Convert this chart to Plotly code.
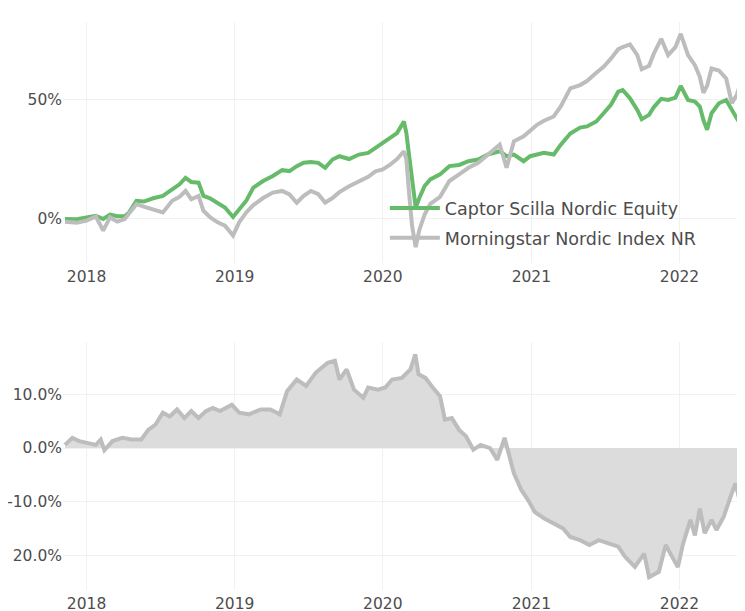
import plotly.graph_objects as go
from plotly.subplots import make_subplots

# ---- data ----
dates_top = [
    "2017-11-09", "2017-12-08", "2018-01-01", "2018-01-24", "2018-02-11", "2018-02-28",
    "2018-03-18", "2018-04-05", "2018-04-16", "2018-05-04", "2018-05-22", "2018-06-14",
    "2018-07-08", "2018-07-31", "2018-08-18", "2018-09-02", "2018-09-16", "2018-10-04",
    "2018-10-16", "2018-11-02", "2018-11-20", "2018-12-08", "2018-12-28", "2019-01-12",
    "2019-01-30", "2019-02-16", "2019-03-12", "2019-04-05", "2019-04-28", "2019-05-16",
    "2019-06-03", "2019-06-20", "2019-07-08", "2019-07-26", "2019-08-12", "2019-08-30",
    "2019-09-16", "2019-10-10", "2019-11-03", "2019-11-26", "2019-12-14", "2020-01-01",
    "2020-01-18", "2020-02-05", "2020-02-22", "2020-02-28", "2020-03-05", "2020-03-13",
    "2020-03-22", "2020-03-31", "2020-04-13", "2020-04-27", "2020-05-21", "2020-06-13",
    "2020-07-07", "2020-07-30", "2020-08-23", "2020-09-15", "2020-10-15", "2020-11-01",
    "2020-11-19", "2020-12-13", "2020-12-29", "2021-01-15", "2021-02-01", "2021-02-25",
    "2021-03-14", "2021-04-07", "2021-05-01", "2021-05-18", "2021-06-10", "2021-06-28",
    "2021-07-16", "2021-08-03", "2021-08-14", "2021-09-01", "2021-09-19", "2021-09-30",
    "2021-10-18", "2021-10-30", "2021-11-17", "2021-12-04", "2021-12-22", "2022-01-04",
    "2022-01-22", "2022-02-08", "2022-02-20", "2022-03-01", "2022-03-10", "2022-03-21",
    "2022-04-08", "2022-04-26", "2022-05-10", "2022-05-22", "2022-06-03",
]

fund_pct = [
    -0.4, -0.5, 0.3, 1.0, -0.4, 1.5, 0.8, 0.8, 2.4, 7.3, 7.0, 8.4,
    9.4, 12.0, 14.3, 17.0, 15.3, 15.0, 9.4, 8.3, 6.3, 4.5, 0.5, 3.5,
    7.5, 12.9, 15.7, 17.8, 20.3, 19.9, 22.0, 23.4, 23.7, 23.4, 21.3, 24.8,
    26.2, 25.0, 26.9, 27.6, 29.7, 31.8, 33.5, 36.0, 40.9, 36.0, 27.6, 15.0,
    4.5, 8.5, 13.6, 16.4, 18.5, 22.0, 22.5, 24.1, 24.8, 26.9, 28.3, 26.2,
    26.9, 24.1, 26.2, 26.9, 27.6, 26.9, 31.0, 35.8, 38.3, 38.8, 40.9, 44.4,
    47.9, 53.5, 54.2, 50.7, 45.8, 41.9, 43.7, 47.0, 50.5, 50.0, 51.0, 55.9,
    50.0, 49.3, 47.2, 41.5, 37.4, 44.4, 48.6, 50.0, 46.0, 42.3, 45.5,
]

index_pct = [
    -1.5, -2.0, -1.1, 0.7, -5.3, 0.3, -1.5, -0.4, 2.0, 5.9, 4.9, 3.8,
    2.4, 7.3, 9.0, 11.5, 8.0, 9.4, 3.1, 0.3, -1.8, -3.2, -7.4, -1.8,
    2.5, 5.5, 8.5, 10.8, 11.5, 10.0, 6.5, 9.4, 11.5, 10.1, 6.6, 8.5,
    11.0, 13.5, 15.5, 17.5, 19.8, 20.6, 22.5, 25.0, 28.3, 25.0, 12.2, -3.2,
    -12.3, -5.0, 1.5, 6.0, 9.0, 15.7, 18.5, 21.3, 23.4, 26.9, 31.1, 21.3,
    32.5, 34.6, 37.0, 39.5, 41.2, 43.0, 47.2, 54.9, 56.3, 58.0, 61.5, 64.0,
    67.5, 71.5, 72.4, 73.5, 69.0, 63.0, 64.5, 69.7, 75.9, 69.0, 72.4, 78.0,
    69.0, 64.7, 59.8, 53.0, 56.0, 63.3, 62.5, 59.1, 48.6, 52.1, 58.4,
]

dates_rel = [
    "2017-11-09", "2017-11-27", "2017-12-14", "2018-01-07", "2018-01-24", "2018-02-05",
    "2018-02-14", "2018-03-06", "2018-03-30", "2018-04-22", "2018-05-16", "2018-06-02",
    "2018-06-20", "2018-07-08", "2018-07-25", "2018-08-12", "2018-08-30", "2018-09-16",
    "2018-10-04", "2018-10-22", "2018-11-08", "2018-11-26", "2018-12-25", "2019-01-12",
    "2019-02-05", "2019-03-06", "2019-03-30", "2019-04-22", "2019-05-10", "2019-06-03",
    "2019-06-26", "2019-07-20", "2019-08-18", "2019-09-05", "2019-09-16", "2019-10-04",
    "2019-10-22", "2019-11-14", "2019-11-26", "2019-12-20", "2020-01-07", "2020-01-24",
    "2020-02-17", "2020-03-09", "2020-03-21", "2020-03-29", "2020-04-15", "2020-05-03",
    "2020-05-21", "2020-06-02", "2020-06-19", "2020-07-07", "2020-07-24", "2020-08-11",
    "2020-08-29", "2020-09-21", "2020-10-09", "2020-10-27", "2020-11-07", "2020-11-19",
    "2020-12-07", "2020-12-24", "2021-01-09", "2021-02-01", "2021-02-25", "2021-03-20",
    "2021-04-07", "2021-05-01", "2021-05-24", "2021-06-16", "2021-07-10", "2021-08-03",
    "2021-08-20", "2021-09-13", "2021-10-06", "2021-10-18", "2021-11-11", "2021-11-28",
    "2021-12-16", "2021-12-28", "2022-01-10", "2022-01-28", "2022-02-08", "2022-02-20",
    "2022-03-04", "2022-03-21", "2022-04-02", "2022-04-20", "2022-05-10", "2022-05-19",
    "2022-05-27", "2022-06-03",
]

relative_pct = [
    0.6, 1.9, 1.3, 0.9, 0.6, 1.6, -0.4, 1.3, 1.9, 1.6, 1.6, 3.4,
    4.4, 6.6, 5.9, 7.2, 5.6, 6.9, 5.6, 6.9, 7.5, 6.9, 8.1, 6.6,
    6.3, 7.2, 7.2, 6.3, 10.6, 12.8, 11.6, 14.1, 15.9, 16.3, 12.8, 14.7,
    10.9, 9.4, 11.3, 10.9, 11.3, 12.8, 13.1, 14.7, 17.5, 13.8, 13.1, 11.3,
    9.7, 5.3, 5.6, 3.4, 2.2, -0.3, 0.6, 0.0, -2.2, 1.9, -1.6, -4.7,
    -7.8, -9.7, -11.9, -13.1, -14.1, -15.0, -16.6, -17.2, -18.1, -17.2, -17.8, -18.4,
    -20.3, -22.2, -19.7, -24.1, -23.1, -18.1, -20.6, -22.2, -17.8, -13.4, -16.3, -11.3,
    -15.9, -13.4, -15.3, -12.8, -8.4, -6.6, -9.1, -12.8,
]

series_names = ["Captor Scilla Nordic Equity", "Morningstar Nordic Index NR"]
top_tickvals = [0, 0.5]
top_ticktext = ["0%", "50%"]
bottom_tickvals = [-0.2, -0.1, 0.0, 0.1]
bottom_ticktext = ["20.0%", "-10.0%", "0.0%", "10.0%"]

GREEN = "#66bb6a"
GRAY = "#bdbdbd"
FILL = "#dcdcdc"
GRID = "#f1f1f1"
TEXT = "#4d4d4d"
FONT = "DejaVu Sans"

fig = make_subplots(rows=2, cols=1, shared_xaxes=False, vertical_spacing=0.14)

fig.add_trace(go.Scatter(
    x=dates_top, y=[v / 100 for v in fund_pct], mode="lines", name=series_names[0],
    legendgroup="a", line=dict(color=GREEN, width=4)), row=1, col=1)
fig.add_trace(go.Scatter(
    x=dates_top, y=[v / 100 for v in index_pct], mode="lines", name=series_names[1],
    legendgroup="b", line=dict(color=GRAY, width=4)), row=1, col=1)
fig.add_trace(go.Scatter(
    x=dates_rel, y=[v / 100 for v in relative_pct], mode="lines", fill="tozeroy",
    fillcolor=FILL, line=dict(color=GRAY, width=4), showlegend=False), row=2, col=1)

xr = ["2017-11-04", "2022-06-04"]
axis_common = dict(showgrid=True, gridcolor=GRID, gridwidth=1, zeroline=False,
                   showline=False, ticks="", automargin=False,
                   tickfont=dict(size=15.5, color=TEXT, family=FONT))

fig.update_xaxes(range=xr, dtick="M12", tick0="2018-01-01", tickformat="%Y",
                 ticklabelstandoff=2, **axis_common)
fig.update_yaxes(**axis_common)
fig.update_layout(
    xaxis=dict(domain=[0, 1]),
    xaxis2=dict(domain=[0, 1]),
    yaxis=dict(domain=[0.5757, 1.0], range=[-0.19, 0.83], tickvals=top_tickvals,
               ticktext=top_ticktext),
    yaxis2=dict(domain=[0.0, 0.4366], range=[-0.265, 0.198], tickvals=bottom_tickvals,
                ticktext=bottom_ticktext),
)

# page body has an 8px margin, so the figure is sized to the remaining area
fig.update_layout(
    width=737, height=603,
    margin=dict(l=55, r=3, t=14, b=21),
    paper_bgcolor="white", plot_bgcolor="white",
    font=dict(family=FONT, size=16, color=TEXT),
    showlegend=True,
    legend=dict(x=0.474, y=0.704, xanchor="left", yanchor="top",
                bgcolor="rgba(0,0,0,0)", borderwidth=0,
                font=dict(size=17.5, color=TEXT, family=FONT),
                itemwidth=50, traceorder="grouped", tracegroupgap=4),
)

fig.write_html("out.html")
